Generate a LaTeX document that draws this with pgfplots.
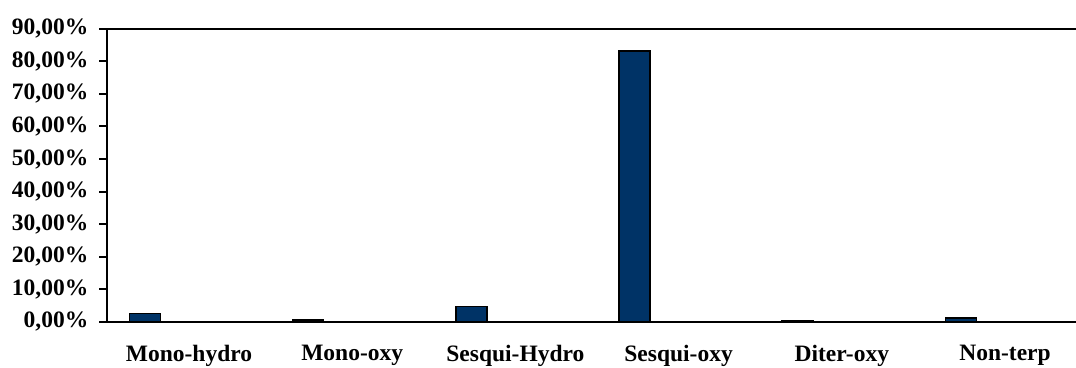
\documentclass[border=0pt]{standalone}
\usepackage{pgfplots}
\pgfplotsset{compat=1.18}
\usepackage{fontspec}
\setmainfont{Liberation Serif}
\definecolor{barnavy}{RGB}{0,51,102}
\begin{document}
\fontsize{23.5}{28}\selectfont\bfseries
\begin{tikzpicture}[x=1pt,y=1pt]
\begin{axis}[
  at={(0,0)}, anchor=south west,
  scale only axis,
  width=968.6pt, height=293pt,
  xmin=-0.5, xmax=5.435,
  ymin=0, ymax=90,
  axis x line=box, axis y line=left,
  axis line style={-, line width=2pt, black},
  tick align=outside,
  major tick length=8pt,
  ytick={0,10,...,90},
  yticklabels={{0,00\%},{10,00\%},{20,00\%},{30,00\%},{40,00\%},{50,00\%},{60,00\%},{70,00\%},{80,00\%},{90,00\%}},
  ytick style={line width=2pt, black},
  yticklabel style={font=\fontsize{23.5}{28}\selectfont\bfseries, xshift=-3pt},
  xtick={0,1,2,3,4,5},
  xticklabels={Mono-hydro,Mono-oxy,Sesqui-Hydro,Sesqui-oxy,Diter-oxy,Non-terp},
  xtick style={draw=none},
  xticklabel style={font=\fontsize{23.5}{28}\selectfont\bfseries, yshift=-7pt},
  ybar, bar width=0.19, bar shift=-0.27,
  clip=false,
]
\addplot[fill=barnavy, draw=black, line width=1.5pt] coordinates {
  (0,2.6) (1,0.5) (2,4.7) (3,83.2) (4,0.3) (5,1.2)
};
\end{axis}
\pgfresetboundingbox
\path[use as bounding box] (-107.4,-46) rectangle (968.6,321.8);
\end{tikzpicture}
\end{document}
